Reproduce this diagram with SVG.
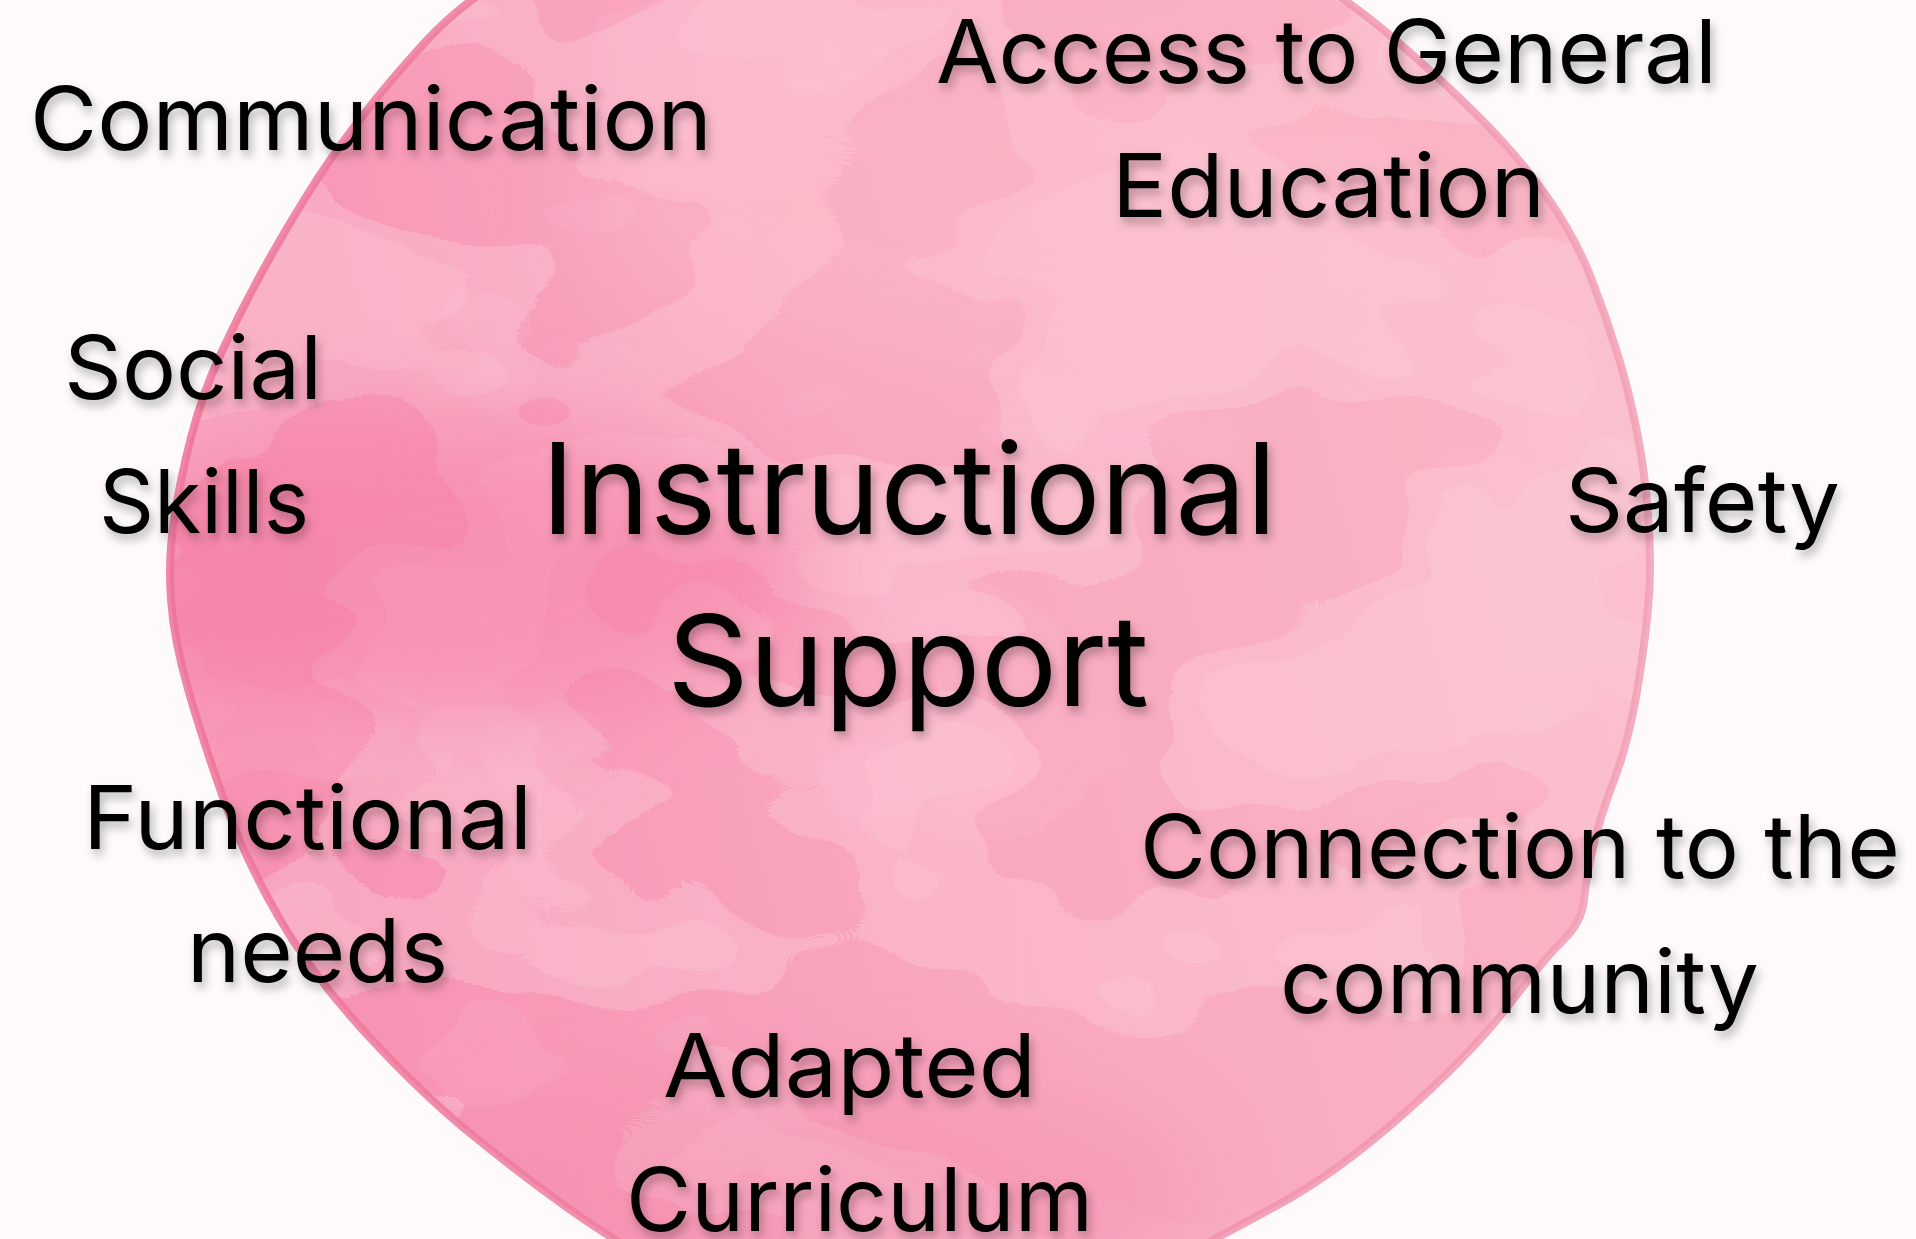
<svg xmlns="http://www.w3.org/2000/svg" width="1916" height="1239" viewBox="0 0 1916 1239">
<style>
.lbl{font-family:Inter,"Noto Sans","Liberation Sans",sans-serif;font-weight:400;fill:#000;filter:url(#tshadow)}
.sm{font-size:88px}
.lg{font-size:126px}
</style>
<defs>
<filter id="tshadow" x="-10%" y="-30%" width="120%" height="170%">
<feDropShadow dx="3" dy="6" stdDeviation="5" flood-color="#000" flood-opacity="0.28"/>
</filter>
<linearGradient id="base" gradientUnits="userSpaceOnUse" x1="170" y1="700" x2="1650" y2="300">
<stop offset="0" stop-color="#F790B1"/>
<stop offset="0.45" stop-color="#F9A7BE"/>
<stop offset="1" stop-color="#FAB7C6"/>
</linearGradient>
<linearGradient id="rim" gradientUnits="userSpaceOnUse" x1="170" y1="0" x2="1650" y2="0">
<stop offset="0" stop-color="#EE7298"/>
<stop offset="0.5" stop-color="#EF86A5"/>
<stop offset="1" stop-color="#F2A0B6"/>
</linearGradient>
<filter id="wc" filterUnits="userSpaceOnUse" x="0" y="-200" width="1916" height="1600">
<feTurbulence type="fractalNoise" baseFrequency="0.003 0.005" numOctaves="3" seed="3" result="n1"/>
<feColorMatrix in="n1" type="matrix" values="0 0 0 0 1  0 0 0 0 0.77  0 0 0 0 0.82  1 0 0 0 0" result="c1"/>
<feComponentTransfer in="c1" result="c1d"><feFuncA type="discrete" tableValues="0 0 0 0 0 0.2 0.3 0.3 0.3 0.3"/></feComponentTransfer>
<feComposite in="c1d" in2="SourceGraphic" operator="in" result="lt"/>
<feTurbulence type="fractalNoise" baseFrequency="0.0035 0.006" numOctaves="3" seed="17" result="n2"/>
<feColorMatrix in="n2" type="matrix" values="0 0 0 0 0.96  0 0 0 0 0.5  0 0 0 0 0.64  1 0 0 0 0" result="c2"/>
<feComponentTransfer in="c2" result="c2d"><feFuncA type="discrete" tableValues="0 0 0 0 0 0 0.16 0.22 0.22 0.22"/></feComponentTransfer>
<feComposite in="c2d" in2="SourceGraphic" operator="in" result="dk"/>
<feMerge><feMergeNode in="SourceGraphic"/><feMergeNode in="dk"/><feMergeNode in="lt"/></feMerge>
</filter>
<filter id="soft" x="-50%" y="-50%" width="200%" height="200%"><feGaussianBlur stdDeviation="45"/></filter>
<path id="blobShape" d="M427.5,39.5 Q464,0 532,-40 Q600,-80 755,-115 Q910,-150 1065,-115 Q1220,-80 1284.5,-40 Q1349,0 1395,39.5 Q1441,79 1480.5,118.5 Q1520,158 1547.5,197.5 Q1575,237 1590.5,276.5 Q1606,316 1618,355.5 Q1630,395 1637.5,434.5 Q1645,474 1648,513.5 Q1651,553 1649.5,586.5 Q1648,620 1639,679 Q1630,738 1615,777.5 Q1600,817 1593,847 Q1586,877 1584,899.5 Q1582,922 1563.5,940 Q1545,958 1508,1006 Q1471,1054 1404,1113.5 Q1337,1173 1276,1206 Q1215,1239 1157.5,1269.5 Q1100,1300 1005,1320 Q910,1340 815,1320 Q720,1300 665.5,1269.5 Q611,1239 565,1206 Q519,1173 470.5,1133.5 Q422,1094 367,1034.5 Q312,975 278,916 Q244,857 223,797.5 Q202,738 188,689 Q174,640 171,600 Q168,560 174,520 Q180,480 191,437.5 Q202,395 220,355.5 Q238,316 259.5,276.5 Q281,237 305.5,197.5 Q330,158 360.5,118.5 Q391,79 427.5,39.5 Z"/>
<clipPath id="blobClip"><use href="#blobShape"/></clipPath>
</defs>
<rect x="0" y="0" width="1916" height="1239" fill="#FEFAFB"/>
<g id="circle">
<use href="#blobShape" fill="url(#base)" filter="url(#wc)"/>
<g clip-path="url(#blobClip)">
<ellipse cx="450" cy="570" rx="360" ry="150" fill="#F57CA4" opacity="0.55" filter="url(#soft)"/>
<ellipse cx="820" cy="1190" rx="380" ry="110" fill="#F38AAA" opacity="0.4" filter="url(#soft)"/>
<ellipse cx="1000" cy="200" rx="420" ry="160" fill="#FDBFCC" opacity="0.35" filter="url(#soft)"/>
</g>
<use href="#blobShape" fill="none" stroke="url(#rim)" stroke-width="8" stroke-opacity="0.85"/>
</g>
<g id="connectors"/>
<g id="node-center">
<text class="lbl lg" x="541" y="534" textLength="736" lengthAdjust="spacingAndGlyphs">Instructional</text>
<text class="lbl lg" x="667" y="706" textLength="482" lengthAdjust="spacingAndGlyphs">Support</text>
</g>
<g id="node-communication">
<text class="lbl sm" x="30" y="150" textLength="682" lengthAdjust="spacingAndGlyphs">Communication</text>
</g>
<g id="node-access">
<text class="lbl sm" x="936" y="83" textLength="781" lengthAdjust="spacingAndGlyphs">Access to General</text>
<text class="lbl sm" x="1112" y="217" textLength="433" lengthAdjust="spacingAndGlyphs">Education</text>
</g>
<g id="node-social">
<text class="lbl sm" x="64" y="399" textLength="258" lengthAdjust="spacingAndGlyphs">Social</text>
<text class="lbl sm" x="99" y="533" textLength="210" lengthAdjust="spacingAndGlyphs">Skills</text>
</g>
<g id="node-safety">
<text class="lbl sm" x="1565" y="532" textLength="275" lengthAdjust="spacingAndGlyphs">Safety</text>
</g>
<g id="node-functional">
<text class="lbl sm" x="83" y="849" textLength="449" lengthAdjust="spacingAndGlyphs">Functional</text>
<text class="lbl sm" x="187" y="982" textLength="261" lengthAdjust="spacingAndGlyphs">needs</text>
</g>
<g id="node-connection">
<text class="lbl sm" x="1140" y="878" textLength="760" lengthAdjust="spacingAndGlyphs">Connection to the</text>
<text class="lbl sm" x="1280" y="1013" textLength="479" lengthAdjust="spacingAndGlyphs">community</text>
</g>
<g id="node-adapted">
<text class="lbl sm" x="663" y="1097" textLength="373" lengthAdjust="spacingAndGlyphs">Adapted</text>
<text class="lbl sm" x="626" y="1231" textLength="467" lengthAdjust="spacingAndGlyphs">Curriculum</text>
</g>
</svg>
